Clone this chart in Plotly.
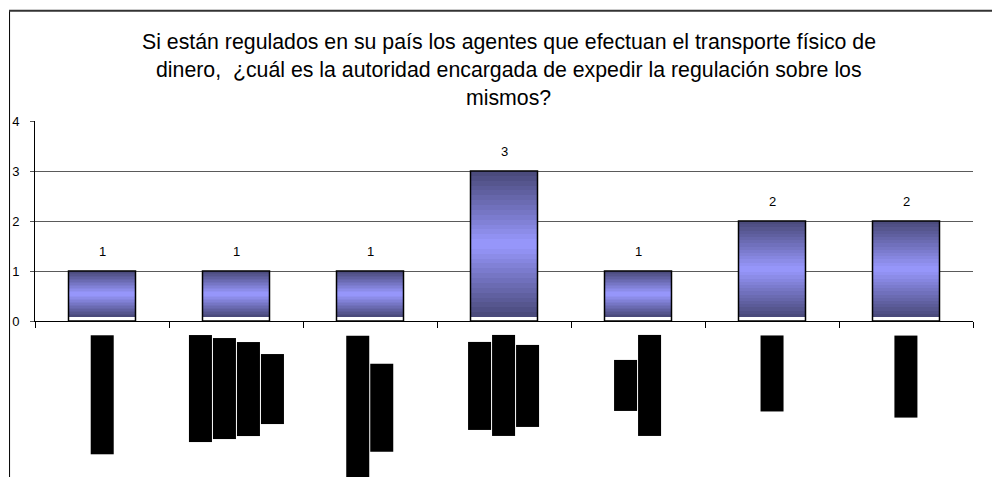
import plotly.graph_objects as go

# ---------------- data ----------------
title_lines = [
    "Si están regulados en su país los agentes que efectuan el transporte físico de",
    "dinero,  ¿cuál es la autoridad encargada de expedir la regulación sobre los",
    "mismos?",
]
values = [1, 1, 1, 3, 1, 2, 2]
# category labels appear redacted (solid black blocks) in the reference
label_lines = [
    ["█████████████████"],
    ["███████████████", "██████████████", "█████████████", "█████████"],
    ["█████████████████████", "████████████"],
    ["████████████", "██████████████", "███████████"],
    ["██████", "██████████████"],
    ["██████████"],
    ["███████████"],
]
y_ticks = [0, 1, 2, 3, 4]

# ---------------- layout constants ----------------
W, H = 992, 477
ML, MR, MT, MB = 33, 19, 121, 156
PW, PH = W - ML - MR, H - MT - MB


def px_x(p):
    return (p - ML) / PW


def px_y(p):
    return (H - MB - p) / PH


DARK = (72, 72, 120)
LIGHT = (153, 153, 255)
N_STRIPS = 30
INSET = 0.08  # fill stops a little above the axis

LBL_SIZE = 8
LBL_ADV = 9.35 / 12 * LBL_SIZE   # measured advance of the block glyph
LBL_PAD = 6.3
LBL_PITCH = 24
LBL_TOP = 336

fig = go.Figure()
xs = list(range(len(values)))

# gradient fill as thin overlapping bar strips
for k in range(N_STRIPS):
    t = (k + 0.5) / N_STRIPS
    f = 1 - abs(2 * t - 1)
    col = tuple(round(DARK[j] + (LIGHT[j] - DARK[j]) * f) for j in range(3))
    bases, heights = [], []
    for v in values:
        h = (v - INSET) / N_STRIPS
        b = INSET + h * k
        bases.append(b)
        heights.append(min(2 * h, v - b))
    fig.add_trace(go.Bar(
        x=xs, y=heights, base=bases, width=0.5,
        marker=dict(color="rgb(%d,%d,%d)" % col, line=dict(width=0)),
        hoverinfo="skip", showlegend=False,
    ))

# outline
fig.add_trace(go.Bar(
    x=xs, y=values, width=0.5,
    marker=dict(color="rgba(0,0,0,0)", line=dict(color="black", width=1.5)),
    hoverinfo="skip", showlegend=False,
))

annotations = []
# data labels
for x, v in zip(xs, values):
    annotations.append(dict(
        x=x, y=v, xref="x", yref="y", text=str(v), showarrow=False,
        yanchor="middle", yshift=20,
        font=dict(family="Liberation Sans", size=13, color="black"),
    ))

# redacted category labels (rotated, centred lines)
for x, lines in zip(xs, label_lines):
    longest = max(len(s) for s in lines) * LBL_ADV + 2 * LBL_PAD
    cy = LBL_TOP + longest / 2
    n = len(lines)
    for j, s in enumerate(lines):
        annotations.append(dict(
            x=x, y=px_y(cy), xref="x", yref="paper", text=s,
            xshift=(j - (n - 1) / 2) * LBL_PITCH,
            showarrow=False, textangle=-90,
            xanchor="center", yanchor="middle",
            bgcolor="black", borderpad=LBL_PAD, borderwidth=0,
            font=dict(family="DejaVu Sans", size=LBL_SIZE, color="black"),
        ))

# title lines
for i, line in enumerate(title_lines):
    annotations.append(dict(
        x=px_x(508), y=px_y(41.5 + 28.4 * i), xref="paper", yref="paper",
        text=line, showarrow=False, xanchor="center", yanchor="middle",
        font=dict(family="Liberation Sans", size=21.3, color="black"),
    ))

shapes = [
    dict(type="line", xref="paper", yref="paper",
         x0=px_x(7.5), x1=px_x(7.5), y0=px_y(10.7), y1=px_y(480),
         line=dict(color="black", width=1)),
    dict(type="line", xref="paper", yref="paper",
         x0=px_x(7), x1=px_x(995), y0=px_y(10.7), y1=px_y(10.7),
         line=dict(color="#333333", width=2)),
]

fig.update_layout(
    width=W, height=H,
    margin=dict(l=ML, r=MR, t=MT, b=MB, pad=0),
    paper_bgcolor="white", plot_bgcolor="white",
    barmode="overlay", bargap=0,
    showlegend=False,
    annotations=annotations, shapes=shapes,
    xaxis=dict(
        range=[-0.5, len(values) - 0.5],
        tickvals=[i - 0.5 for i in range(len(values) + 1)],
        showticklabels=False, ticks="outside", ticklen=6, tickcolor="black",
        tickwidth=1, showline=True, linecolor="black", linewidth=1,
        showgrid=False, zeroline=False, fixedrange=True,
    ),
    yaxis=dict(
        range=[0, 4], tickvals=y_ticks, ticks="outside", ticklen=4,
        tickcolor="#555555", showline=True, linecolor="black", linewidth=1,
        showgrid=True, gridcolor="#5a5a5a", gridwidth=1, zeroline=False,
        tickfont=dict(family="Liberation Sans", size=13, color="black"),
        ticklabelstandoff=8, fixedrange=True,
    ),
)

fig.write_html(
    "out.html",
    config={"displayModeBar": False, "staticPlot": True},
    post_script="document.body.style.margin='0';",
)
